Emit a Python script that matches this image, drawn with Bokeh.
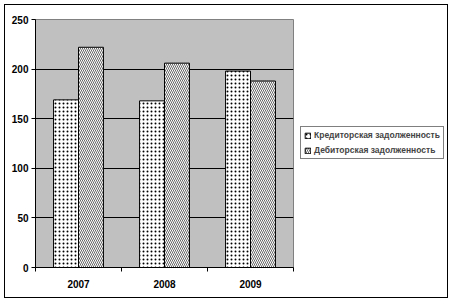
from bokeh.plotting import figure
from bokeh.models import FixedTicker, Legend, LegendItem, ColumnDataSource
from bokeh.layouts import row
from bokeh.embed import file_html
from bokeh.resources import INLINE

years = ["2007", "2008", "2009"]
kredit = [169, 168, 198]
debit = [222, 206, 188]
series_names = ["Кредиторская задолженность", "Дебиторская задолженность"]
y_ticks = [0, 50, 100, 150, 200, 250]

xc = [i + 0.5 for i in range(len(years))]
bw = 0.29
src1 = ColumnDataSource(dict(x=[c - bw / 2 for c in xc], top=kredit))
src2 = ColumnDataSource(dict(x=[c + bw / 2 for c in xc], top=debit))

style1 = dict(fill_color="white", line_color="black", line_width=1, hatch_pattern="dot",
              hatch_color="black", hatch_scale=4, hatch_weight=0.5)
style2 = dict(fill_color="white", line_color="black", line_width=1, hatch_pattern="\\",
              hatch_color="black", hatch_scale=4, hatch_weight=0.6)

p = figure(width=291, height=292, output_backend="svg", toolbar_location=None,
           x_range=(0, len(years)), y_range=(0, 250),
           min_border_left=30, min_border_right=3, min_border_top=14, min_border_bottom=30)
p.background_fill_color = "#C0C0C0"
p.border_fill_color = "white"
p.outline_line_color = "#808080"

r1 = p.vbar(x="x", top="top", width=bw, bottom=0, source=src1, **style1)
r2 = p.vbar(x="x", top="top", width=bw, bottom=0, source=src2, **style2)

p.xgrid.visible = False
p.ygrid.grid_line_color = "black"
p.ygrid.grid_line_width = 1
p.yaxis.ticker = FixedTicker(ticks=y_ticks)
p.xaxis.ticker = FixedTicker(ticks=xc, minor_ticks=list(range(len(years) + 1)))
p.xaxis.major_label_overrides = {c: y for c, y in zip(xc, years)}
p.xaxis.major_tick_out = 0
p.xaxis.major_tick_in = 0
p.xaxis.minor_tick_out = 4
p.xaxis.minor_tick_in = 0
p.xaxis.minor_tick_line_color = "black"
p.yaxis.minor_tick_line_color = None
p.yaxis.major_tick_out = 4
p.yaxis.major_tick_in = 0
for ax in (p.xaxis, p.yaxis):
    ax.axis_line_color = "black"
    ax.major_tick_line_color = "black"
    ax.major_label_text_font = "Liberation Sans"
    ax.major_label_text_font_style = "bold"
    ax.major_label_text_font_size = "10px"
    ax.major_label_text_color = "black"
p.xaxis.major_label_standoff = 8
p.yaxis.major_label_standoff = 3

# legend panel
p2 = figure(width=151, height=292, output_backend="svg", toolbar_location=None,
            x_range=(0, 1), y_range=(0, 1), min_border=0)
p2.axis.visible = False
p2.grid.visible = False
p2.outline_line_color = None
p2.background_fill_color = "white"
p2.border_fill_color = "white"
# legend proxies drawn outside the visible range
e = ColumnDataSource(dict(x=[10], top=[1]))
l1 = p2.vbar(x="x", top="top", width=0.1, source=e, **style1)
l2 = p2.vbar(x="x", top="top", width=0.1, source=e, **style2)

legend = Legend(items=[LegendItem(label=series_names[0], renderers=[l1]),
                       LegendItem(label=series_names[1], renderers=[l2])],
                location=(4, 108))
legend.label_text_font = "Liberation Sans"
legend.label_text_font_style = "bold"
legend.label_text_font_size = "8.5px"
legend.glyph_width = 7
legend.glyph_height = 7
legend.label_standoff = 3
legend.label_height = 9
legend.spacing = 5
legend.padding = 3
legend.margin = 0
legend.border_line_color = "black"
legend.background_fill_color = "white"
legend.background_fill_alpha = 1
p2.add_layout(legend, "center")

layout = row(p, p2, margin=(4, 0, 0, 4), styles={"border": "1px solid black"})
open("out.html", "w").write(file_html(layout, INLINE))
